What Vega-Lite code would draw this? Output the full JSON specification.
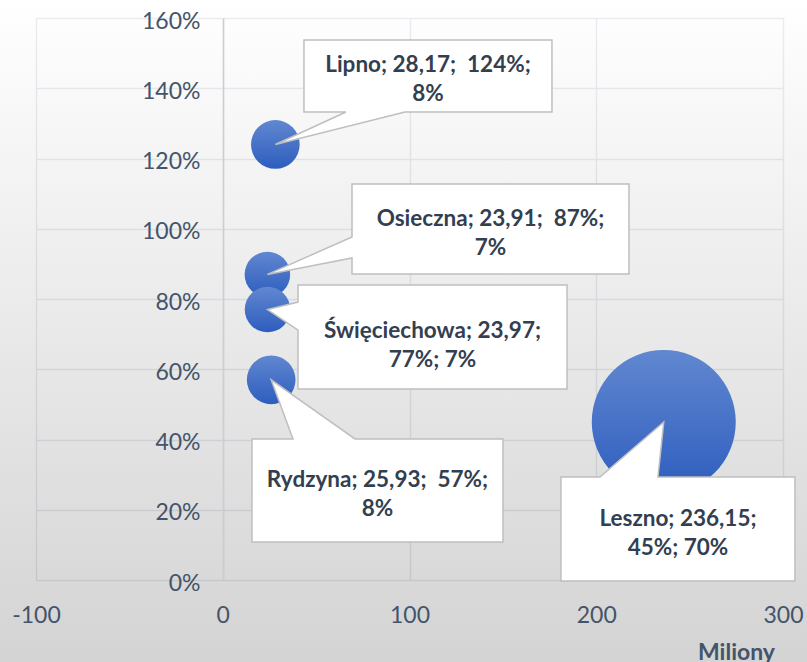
{
  "$schema": "https://vega.github.io/schema/vega-lite/v6.json",
  "width": 747,
  "height": 562,
  "autosize": {"type": "none"},
  "padding": {"left": 36, "top": 18, "right": 24, "bottom": 82},
  "background": "#ffffff",
  "config": {"view": {"stroke": null}, "font": "Lato"},
  "resolve": {"axis": {"x": "independent", "y": "independent"}},
  "data": {"values": [
    {"name": "Lipno", "x": 28.17, "y": 1.24, "size": 0.08},
    {"name": "Osieczna", "x": 23.91, "y": 0.87, "size": 0.07},
    {"name": "Święciechowa", "x": 23.97, "y": 0.77, "size": 0.07},
    {"name": "Rydzyna", "x": 25.93, "y": 0.57, "size": 0.08},
    {"name": "Leszno", "x": 236.15, "y": 0.45, "size": 0.70}
  ]},
  "layer": [
    {
      "data": {"values": [{"bg": 1}]},
      "mark": {
        "type": "rect", "clip": false, "opacity": 0.17,
        "fill": {"gradient": "linear", "x1": 0, "y1": 0, "x2": 0, "y2": 1,
          "stops": [{"offset": 0, "color": "#ffffff"}, {"offset": 1, "color": "#000000"}]}
      },
      "encoding": {
        "x": {"datum": -119.3, "type": "quantitative", "scale": {"domain": [-100, 300], "nice": false, "zero": false},
          "axis": {"orient": "bottom", "values": [-100, 0, 100, 200, 300], "grid": true, "gridColor": "#e6e9ee", "gridWidth": 1.5,
            "labels": false, "ticks": false, "domain": false, "title": null, "zindex": 0}},
        "x2": {"datum": 312.9},
        "y": {"datum": 1.6513, "type": "quantitative", "scale": {"domain": [0, 1.6], "nice": false, "zero": false},
          "axis": {"orient": "left", "values": [0, 0.2, 0.4, 0.6, 0.8, 1.0, 1.2, 1.4, 1.6], "grid": true, "gridColor": "#e6e9ee", "gridWidth": 1.5,
            "labels": false, "ticks": false, "domain": false, "title": null, "zindex": 0}},
        "y2": {"datum": -0.2335}
      }
    },
    {
      "encoding": {
        "x": {
          "field": "x", "type": "quantitative",
          "scale": {"domain": [-100, 300], "nice": false, "zero": false},
          "axis": {
            "orient": "bottom", "zindex": 1,
            "values": [-100, 0, 100, 200, 300],
            "labelExpr": "replace(datum.label, '\u2212', '-')",
            "grid": false, "domain": false, "ticks": false, "tickSize": 0,
            "labelFont": "Lato", "labelFontSize": 23, "labelColor": "#44546a",
            "labelPadding": 35, "labelBaseline": "middle", "labelFlush": false, "labelOverlap": false,
            "title": "Miliony", "titleFont": "Lato", "titleFontSize": 23, "titleFontWeight": "bold",
            "titleColor": "#44546a", "titleX": 700, "titleY": 79, "titleAlign": "center", "titleBaseline": "alphabetic"
          }
        },
        "y": {
          "field": "y", "type": "quantitative",
          "scale": {"domain": [0, 1.6], "nice": false, "zero": false},
          "axis": {
            "orient": "left", "zindex": 1,
            "values": [0, 0.2, 0.4, 0.6, 0.8, 1.0, 1.2, 1.4, 1.6],
            "format": ".0%",
            "grid": false,
            "domain": true, "domainColor": "#c6cfdb", "domainWidth": 1.5,
            "ticks": false, "tickSize": 0, "offset": -187,
            "labelFont": "Lato", "labelFontSize": 23, "labelColor": "#44546a",
            "labelPadding": 23, "labelOffset": 3, "labelFlush": false, "labelOverlap": false,
            "title": null
          }
        }
      },
      "layer": [
        {
          "mark": {
            "type": "circle", "opacity": 1, "strokeWidth": 0,
            "fill": {"gradient": "linear", "x1": 0, "y1": 0, "x2": 0, "y2": 1,
              "stops": [{"offset": 0, "color": "#6187d0"}, {"offset": 1, "color": "#2d5dbe"}]}
          },
          "encoding": {
            "size": {"field": "size", "type": "quantitative", "scale": {"domain": [0, 0.7], "range": [0, 20736], "zero": true}, "legend": null}
          }
        },
        {
          "mark": {"type": "point", "filled": true, "fill": "#ffffff", "stroke": "#bfbfbf", "strokeWidth": 1.5, "opacity": 1, "strokeOpacity": 1, "size": 4, "clip": false},
          "encoding": {
            "shape": {
              "field": "name", "type": "nominal", "legend": null,
              "scale": {
                "domain": ["Lipno", "Osieczna", "Święciechowa", "Rydzyna", "Leszno"],
                "range": [
                  "M28.6,-104.5H276.6V-32.5H129.6L0,0L70.6,-32.5H28.6Z",
                  "M84.6,-90.4H361.6V-0.4H84.6V-16.4L0,0L84.6,-37.4Z",
                  "M30.5,-24.5H299.5V79.5H30.5V20.5L0,0L30.5,-7.5Z",
                  "M-19.2,59.2H21.8L0,0L83.8,59.2H231.8V162.2H-19.2Z",
                  "M-102.8,55.1H-63.8L0,0L-5.8,55.1H131.2V159.1H-102.8Z"
                ]
              }
            }
          }
        },
        {
          "transform": [
            {"filter": "datum.name === 'Lipno'"},
            {"calculate": "[datum.name + '; ' + replace(format(datum.x, '.2f'), '.', ',') + ';\u00a0 ' + format(datum.y, '.0%') + ';', format(datum.size, '.0%')]", "as": "lines"}
          ],
          "mark": {"type": "text", "dx": 152.6, "dy": -79.5, "align": "center", "baseline": "middle", "lineHeight": 29, "font": "Lato", "fontWeight": "bold", "fontSize": 22.5, "fill": "#333f50"},
          "encoding": {"text": {"field": "lines", "type": "nominal"}}
        },
        {
          "transform": [
            {"filter": "datum.name === 'Osieczna'"},
            {"calculate": "[datum.name + '; ' + replace(format(datum.x, '.2f'), '.', ',') + ';\u00a0 ' + format(datum.y, '.0%') + ';', format(datum.size, '.0%')]", "as": "lines"}
          ],
          "mark": {"type": "text", "dx": 223.1, "dy": -55.9, "align": "center", "baseline": "middle", "lineHeight": 29, "font": "Lato", "fontWeight": "bold", "fontSize": 22.5, "fill": "#333f50"},
          "encoding": {"text": {"field": "lines", "type": "nominal"}}
        },
        {
          "transform": [
            {"filter": "datum.name === 'Święciechowa'"},
            {"calculate": "[datum.name + '; ' + replace(format(datum.x, '.2f'), '.', ',') + ';', format(datum.y, '.0%') + '; ' + format(datum.size, '.0%')]", "as": "lines"}
          ],
          "mark": {"type": "text", "dx": 165, "dy": 21, "align": "center", "baseline": "middle", "lineHeight": 29, "font": "Lato", "fontWeight": "bold", "fontSize": 22.5, "fill": "#333f50"},
          "encoding": {"text": {"field": "lines", "type": "nominal"}}
        },
        {
          "transform": [
            {"filter": "datum.name === 'Rydzyna'"},
            {"calculate": "[datum.name + '; ' + replace(format(datum.x, '.2f'), '.', ',') + ';\u00a0 ' + format(datum.y, '.0%') + ';', format(datum.size, '.0%')]", "as": "lines"}
          ],
          "mark": {"type": "text", "dx": 106.3, "dy": 100.7, "align": "center", "baseline": "middle", "lineHeight": 29, "font": "Lato", "fontWeight": "bold", "fontSize": 22.5, "fill": "#333f50"},
          "encoding": {"text": {"field": "lines", "type": "nominal"}}
        },
        {
          "transform": [
            {"filter": "datum.name === 'Leszno'"},
            {"calculate": "[datum.name + '; ' + replace(format(datum.x, '.2f'), '.', ',') + ';', format(datum.y, '.0%') + '; ' + format(datum.size, '.0%')]", "as": "lines"}
          ],
          "mark": {"type": "text", "dx": 14.2, "dy": 96.6, "align": "center", "baseline": "middle", "lineHeight": 29, "font": "Lato", "fontWeight": "bold", "fontSize": 22.5, "fill": "#333f50", "clip": false},
          "encoding": {"text": {"field": "lines", "type": "nominal"}}
        }
      ]
    }
  ]
}
